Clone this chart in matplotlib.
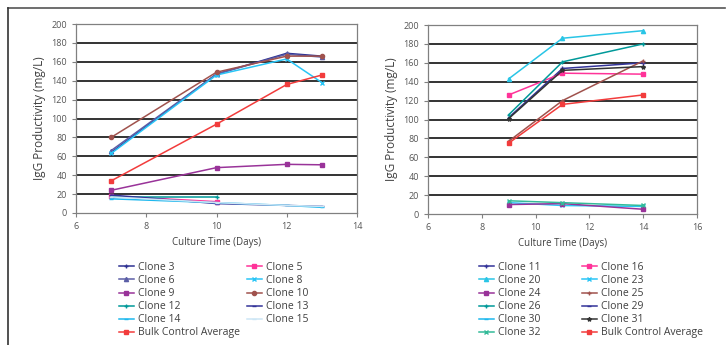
import numpy as np
import matplotlib.pyplot as plt
from matplotlib.lines import Line2D

nan = np.nan

# left panel
days_a = [7, 10, 12, 13]
labels_a = ['Clone 3', 'Clone 5', 'Clone 6', 'Clone 8', 'Clone 9', 'Clone 10',
            'Clone 12', 'Clone 13', 'Clone 14', 'Clone 15', 'Bulk Control Average']
values_a = [
    [64, 147, 169, 166],
    [18, 12, nan, nan],
    [66, 147, 168, 165],
    [63, 146, 163, 138],
    [24, 48, 51.5, 51],
    [80, 149, 166, 166],
    [17, 17, nan, nan],
    [19, 10, 8, 7],
    [15, 11, 8, 6],
    [17, 11, 8, 7],
    [34, 94, 136, 146],
]

# right panel
days_b = [9, 11, 14]
labels_b = ['Clone 11', 'Clone 16', 'Clone 20', 'Clone 23', 'Clone 24', 'Clone 25',
            'Clone 26', 'Clone 29', 'Clone 30', 'Clone 31', 'Clone 32', 'Bulk Control Average']
values_b = [
    [102, 154, 160],
    [126, 149, 148],
    [143, 186, 194],
    [12, 9, 8],
    [10, 11, 5],
    [77, 120, 162],
    [105, 161, 180],
    [nan, nan, nan],
    [nan, nan, nan],
    [101, 152, 156],
    [14, 12, 9],
    [75, 116, 126],
]

styles_a = {
    'Clone 3': ('#2E3192', '+'),
    'Clone 5': ('#FF3399', 's'),
    'Clone 6': ('#5B5EA6', '^'),
    'Clone 8': ('#29C5F6', 'x'),
    'Clone 9': ('#993399', 's'),
    'Clone 10': ('#A0524D', 'o'),
    'Clone 12': ('#009999', '+'),
    'Clone 13': ('#333399', '_'),
    'Clone 14': ('#1EB8EE', '_'),
    'Clone 15': ('#CDE6F5', '_'),
    'Bulk Control Average': ('#F23C3C', 's'),
}
styles_b = {
    'Clone 11': ('#333399', '+'),
    'Clone 16': ('#FF3399', 's'),
    'Clone 20': ('#29C5E6', '^'),
    'Clone 23': ('#29C5F6', 'x'),
    'Clone 24': ('#993399', 's'),
    'Clone 25': ('#A0524D', '+'),
    'Clone 26': ('#009999', '+'),
    'Clone 29': ('#333399', '_'),
    'Clone 30': ('#1EB8EE', '_'),
    'Clone 31': ('#333333', '*'),
    'Clone 32': ('#33BB99', 'x'),
    'Bulk Control Average': ('#F23C3C', 's'),
}

plt.rcParams['font.family'] = ['Open Sans', 'DejaVu Sans']
tc = '#404040'

W, H = 727, 345
fig = plt.figure(figsize=(W / 100, H / 100), dpi=100)


def px(l, t, r, b):
    return [l / W, 1 - b / H, (r - l) / W, (b - t) / H]


def setup(ax, xlim, xticks):
    ax.set_xlim(*xlim)
    ax.set_ylim(0, 200)
    ax.set_xticks(xticks)
    ax.set_yticks(range(0, 201, 20))
    for y in range(20, 201, 20):
        ax.axhline(y, color='#111111', lw=1.2, zorder=0)
    for s in ax.spines.values():
        s.set_color('#808080')
        s.set_linewidth(0.9)
    ax.tick_params(labelsize=6.5, colors='#808080', labelcolor='#555555', length=3, width=0.8)
    ax.set_xlabel('Culture Time (Days)', fontsize=7, color=tc, labelpad=4)
    ax.set_ylabel('IgG Productivity (mg/L)', fontsize=8.5, color=tc, labelpad=4)


def draw(ax, days, labels, values, styles):
    handles = {}
    for lab, vals in zip(labels, values):
        c, m = styles[lab]
        h, = ax.plot(days, vals, color=c, marker=m, ms=3, mew=1.0, lw=1.1, label=lab)
        handles[lab] = h
    return handles


ax1 = fig.add_axes(px(76, 24, 357, 213))
setup(ax1, (6, 14), range(6, 15, 2))
h1 = draw(ax1, days_a, labels_a, values_a, styles_a)
order1 = ['Clone 3', 'Clone 6', 'Clone 9', 'Clone 12', 'Clone 14', 'Bulk Control Average',
          'Clone 5', 'Clone 8', 'Clone 10', 'Clone 13', 'Clone 15']
fig.legend([h1[k] for k in order1], order1, ncol=2, frameon=False,
           loc='upper left', bbox_to_anchor=(119 / W, 1 - 262 / H),
           fontsize=7.5, labelcolor=tc, handlelength=1.4, handletextpad=0.4,
           labelspacing=0.2, columnspacing=0.7, borderpad=0, borderaxespad=0)

ax2 = fig.add_axes(px(428, 25, 697, 214))
setup(ax2, (6, 16), range(6, 17, 2))
h2 = draw(ax2, days_b, labels_b, values_b, styles_b)
order2 = ['Clone 11', 'Clone 20', 'Clone 24', 'Clone 26', 'Clone 30', 'Clone 32',
          'Clone 16', 'Clone 23', 'Clone 25', 'Clone 29', 'Clone 31', 'Bulk Control Average']
fig.legend([h2[k] for k in order2], order2, ncol=2, frameon=False,
           loc='upper left', bbox_to_anchor=(479 / W, 1 - 262 / H),
           fontsize=7.5, labelcolor=tc, handlelength=1.4, handletextpad=0.4,
           labelspacing=0.2, columnspacing=4.0, borderpad=0, borderaxespad=0)

# outer frame (top and left edges only)
fig.add_artist(Line2D([8 / W, 725 / W], [1 - 8 / H, 1 - 8 / H], color='#555555', lw=1.2))
fig.add_artist(Line2D([8 / W, 8 / W], [1 - 8 / H, 0], color='#333333', lw=1.2))

fig.savefig('out.png', dpi=100)
